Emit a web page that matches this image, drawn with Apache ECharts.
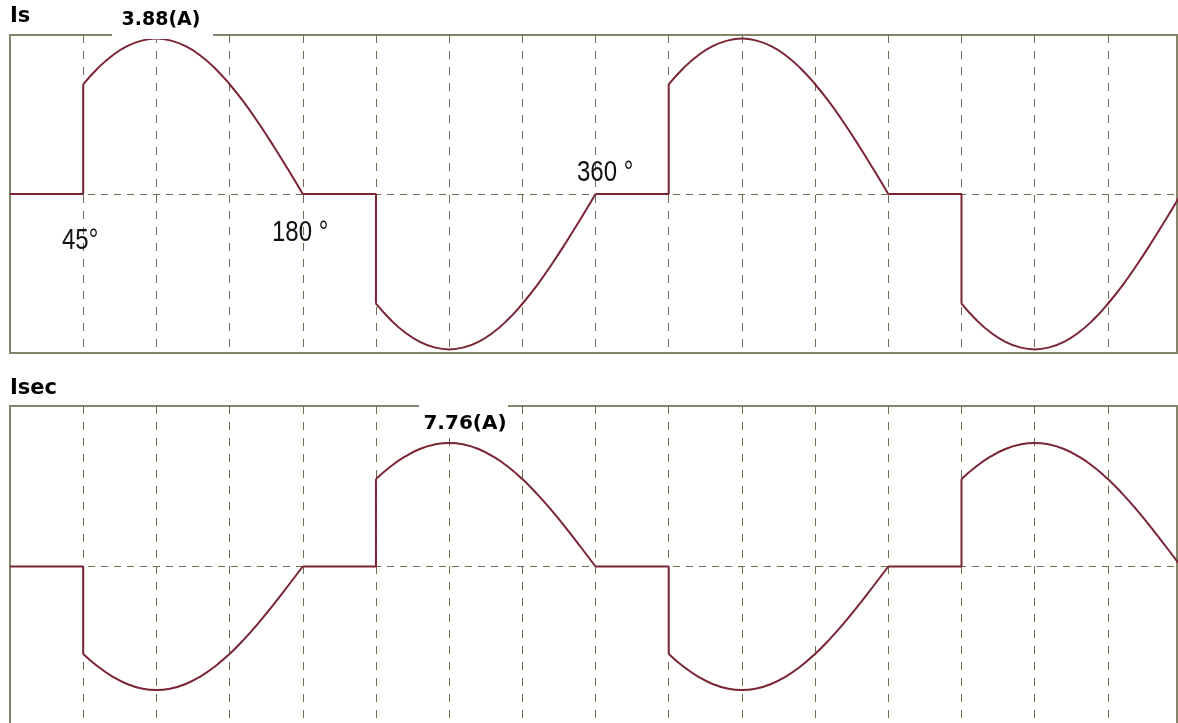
<!DOCTYPE html>
<html>
<head>
<meta charset="utf-8">
<script src="https://cdn.jsdelivr.net/npm/echarts@6/dist/echarts.min.js"></script>
<style>
html,body{margin:0;padding:0;background:#fff;}
#chart{width:1178px;height:723px;}
</style>
</head>
<body>
<div id="chart"></div>
<script>
// angle (degrees) of each sampled point; the firing jumps have two points at the same angle
const angles = [0,
  45,45,54,63,72,81,90,99,108,117,126,135,144,153,162,171,180,
  225,225,234,243,252,261,270,279,288,297,306,315,324,333,342,351,360,
  405,405,414,423,432,441,450,459,468,477,486,495,504,513,522,531,540,
  585,585,594,603,612,621,630,639,648,657,666,675,684,693,702,711,720];

const isValues = [0,
  0,2.74,3.14,3.46,3.69,3.83,3.88,3.83,3.69,3.46,3.14,2.74,2.28,1.76,1.20,0.61,0,
  0,-2.74,-3.14,-3.46,-3.69,-3.83,-3.88,-3.83,-3.69,-3.46,-3.14,-2.74,-2.28,-1.76,-1.20,-0.61,0,
  0,2.74,3.14,3.46,3.69,3.83,3.88,3.83,3.69,3.46,3.14,2.74,2.28,1.76,1.20,0.61,0,
  0,-2.74,-3.14,-3.46,-3.69,-3.83,-3.88,-3.83,-3.69,-3.46,-3.14,-2.74,-2.28,-1.76,-1.20,-0.61,0];

const isecValues = [0,
  0,-5.49,-6.28,-6.91,-7.38,-7.66,-7.76,-7.66,-7.38,-6.91,-6.28,-5.49,-4.56,-3.52,-2.40,-1.21,0,
  0,5.49,6.28,6.91,7.38,7.66,7.76,7.66,7.38,6.91,6.28,5.49,4.56,3.52,2.40,1.21,0,
  0,-5.49,-6.28,-6.91,-7.38,-7.66,-7.76,-7.66,-7.38,-6.91,-6.28,-5.49,-4.56,-3.52,-2.40,-1.21,0,
  0,5.49,6.28,6.91,7.38,7.66,7.76,7.66,7.38,6.91,6.28,5.49,4.56,3.52,2.40,1.21,0];

const panelTitles = ['Is', 'Isec'];
const peakLabels = ['3.88(A)', '7.76(A)'];
const angleLabels = ['45°', '180 °', '360 °'];

const CURVE = '#7a2535';
const BORDER = '#85856b';
const DASH = '#6e6e52';

// split a waveform into its conducting arcs (drawn smooth) and its flat parts + jumps (straight)
function splitWave(vals) {
  const arcs = [], flats = [];
  let inArc = false;
  for (let i = 0; i < angles.length; i++) {
    const a = angles[i], v = vals[i];
    const jumpTop = i > 0 && a === angles[i - 1] && v !== 0;
    if (jumpTop) {
      inArc = true;
      arcs.push([a, v]); flats.push([a, v]);
      flats.push([a, '-']);
    } else if (inArc) {
      arcs.push([a, v]);
      if (v === 0) { inArc = false; flats.push([a, v]); arcs.push([a, '-']); }
    } else {
      flats.push([a, v]);
    }
  }
  return {arcs, flats};
}

const chart = echarts.init(document.getElementById('chart'), null, {renderer: 'canvas'});

function xAxisCfg(idx) {
  return {
    type: 'value', gridIndex: idx, min: 0, max: 717.5, interval: 45,
    axisLine: {show: false}, axisTick: {show: false}, axisLabel: {show: false},
    splitLine: {show: true, showMinLine: false, showMaxLine: false,
      lineStyle: {color: DASH, width: 1, type: [8, 8]}}
  };
}
function yAxisCfg(idx, r) {
  return {
    type: 'value', gridIndex: idx, min: -r, max: r, interval: r,
    axisLine: {show: false}, axisTick: {show: false}, axisLabel: {show: false},
    splitLine: {show: true, showMinLine: false, showMaxLine: false,
      lineStyle: {color: DASH, width: 1, type: [7, 6]}}
  };
}
function waveSeries(idx, vals) {
  const parts = splitWave(vals);
  const base = {type: 'line', xAxisIndex: idx, yAxisIndex: idx, showSymbol: false, symbol: 'none',
    clip: true, connectNulls: false, lineStyle: {color: CURVE, width: 2}};
  return [
    Object.assign({}, base, {smooth: 0.5, data: parts.arcs}),
    Object.assign({}, base, {smooth: false, data: parts.flats})
  ];
}

const boldFont = {fontFamily: '"DejaVu Sans"', fontWeight: 'bold', fill: '#000'};
const degFont = {fontFamily: '"Liberation Sans", Arial', fontWeight: 'normal', fontSize: 24, fill: '#111'};

function txt(x, y, text, style, extra) {
  return Object.assign({
    type: 'text', x: x, y: y, z: 101,
    style: Object.assign({text: text, x: 0, y: 0, align: 'left', verticalAlign: 'middle',
      textAlign: 'left', textVerticalAlign: 'middle'}, style)
  }, extra || {});
}

const option = {
  animation: false,
  backgroundColor: '#fff',
  grid: [
    {left: 10, right: 1, top: 35, height: 318, show: true, borderColor: BORDER, borderWidth: 2,
      backgroundColor: 'transparent', outerBoundsMode: 'none', containLabel: false},
    {left: 10, right: 1, top: 406, height: 321, show: true, borderColor: BORDER, borderWidth: 2,
      backgroundColor: 'transparent', outerBoundsMode: 'none', containLabel: false}
  ],
  xAxis: [xAxisCfg(0), xAxisCfg(1)],
  yAxis: [yAxisCfg(0, 3.97), yAxisCfg(1, 10.08)],
  series: waveSeries(0, isValues).concat(waveSeries(1, isecValues)),
  graphic: [
    {type: 'rect', z: 100, shape: {x: 112, y: 32, width: 101, height: 7}, style: {fill: '#fff'}},
    {type: 'rect', z: 100, shape: {x: 419, y: 403, width: 89, height: 34}, style: {fill: '#fff'}},
    txt(10, 16.5, panelTitles[0], Object.assign({fontSize: 21}, boldFont)),
    txt(10, 389, panelTitles[1], Object.assign({fontSize: 21}, boldFont)),
    txt(161, 20.5, peakLabels[0], Object.assign({fontSize: 19, align: 'center', textAlign: 'center'}, boldFont)),
    txt(465, 423.5, peakLabels[1], Object.assign({fontSize: 20, align: 'center', textAlign: 'center'}, boldFont)),
    txt(62, 241.5, angleLabels[0], degFont, {scaleY: 1.2}),
    txt(272, 233.5, angleLabels[1], degFont, {scaleY: 1.2}),
    txt(577, 173.5, angleLabels[2], degFont, {scaleY: 1.2})
  ]
};
chart.setOption(option);
</script>
</body>
</html>
